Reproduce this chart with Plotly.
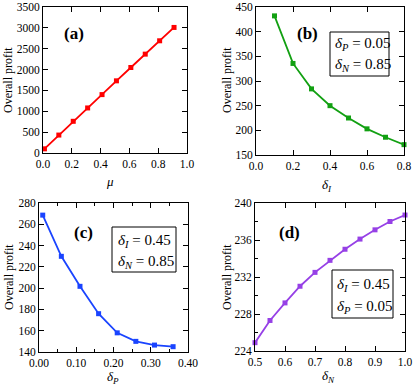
import plotly.graph_objects as go

# data
mu = [0.01, 0.11, 0.21, 0.31, 0.41, 0.51, 0.61, 0.71, 0.81, 0.91]
profit_a = [100, 430, 760, 1080, 1400, 1730, 2050, 2370, 2690, 3010]

delta_i = [0.1, 0.2, 0.3, 0.4, 0.5, 0.6, 0.7, 0.8]
profit_b = [432, 335.6, 284, 250, 225, 203, 186, 171]

delta_p = [0.01, 0.06, 0.11, 0.16, 0.21, 0.26, 0.31, 0.36]
profit_c = [268.6, 229.9, 201.7, 176, 158, 150, 146.5, 145]

delta_n = [0.5, 0.55, 0.6, 0.65, 0.7, 0.75, 0.8, 0.85, 0.9, 0.95, 1.0]
profit_d = [224.9, 227.3, 229.2, 231.0, 232.5, 233.8, 235.0, 236.1, 237.1, 238.0, 238.7]

W, H = 415, 385
FONT = "Liberation Serif, Times New Roman, serif"


def fx(p):
    return p / W


def fy(p):
    return 1 - p / H


fig = go.Figure()

series = [
    (mu, profit_a, "#ff0000", "x", "y"),
    (delta_i, profit_b, "#12a012", "x2", "y2"),
    (delta_p, profit_c, "#1a44ff", "x3", "y3"),
    (delta_n, profit_d, "#9640e6", "x4", "y4"),
]
for xs, ys, col, xa, ya in series:
    fig.add_trace(go.Scatter(x=xs, y=ys, mode="lines+markers", xaxis=xa, yaxis=ya,
                             line=dict(color=col, width=1.8),
                             marker=dict(symbol="square", size=5, color=col),
                             showlegend=False, cliponaxis=False))

ax = dict(showline=True, linecolor="black", linewidth=1, mirror="allticks",
          ticks="inside", ticklen=5, tickwidth=1, tickcolor="black",
          showgrid=False, zeroline=False, automargin=False,
          tickfont=dict(family=FONT, size=11.5, color="black"))

# panel domains (pixels: left, right, top, bottom)
boxes = [(43, 187, 7, 153), (256, 404, 7, 155), (39, 188, 203, 352), (255, 405, 203, 351)]
xset = [
    dict(range=[0, 1], dtick=0.2, tickformat=".1f"),
    dict(range=[0, 0.8], dtick=0.2, tickformat=".1f"),
    dict(range=[0, 0.4], dtick=0.1, tickformat=".2f",
         minor=dict(dtick=0.05, ticks="inside", ticklen=3, tickcolor="black")),
    dict(range=[0.5, 1.0], dtick=0.1, tickformat=".1f"),
]
yset = [
    dict(range=[0, 3500], dtick=500),
    dict(range=[150, 450], dtick=50),
    dict(range=[140, 280], dtick=20),
    dict(range=[224, 240], dtick=4,
         minor=dict(dtick=2, ticks="inside", ticklen=3, tickcolor="black")),
]
layout = {}
for i, (l, r, t, b) in enumerate(boxes):
    n = "" if i == 0 else str(i + 1)
    layout["xaxis" + n] = dict(ax, domain=[fx(l), fx(r)], anchor="y" + n, **xset[i])
    layout["yaxis" + n] = dict(ax, domain=[fy(b), fy(t)], anchor="x" + n, **yset[i])
fig.update_layout(**layout)

ann = []


def text(x, y, s, size, xanchor="center", yanchor="middle", **kw):
    ann.append(dict(x=fx(x), y=fy(y), xref="paper", yref="paper", text=s, showarrow=False,
                    xanchor=xanchor, yanchor=yanchor,
                    font=dict(family=FONT, size=size, color="black"), **kw))


# panel labels
for lab, x, y in [("(a)", 74, 33), ("(b)", 307, 33), ("(c)", 83, 232), ("(d)", 289, 232)]:
    text(x, y, "<b>" + lab + "</b>", 17)

# axis titles
for x, y in [(8, 80), (227, 80), (9, 277), (227, 277)]:
    text(x, y, "Overall profit", 12, textangle=-90)
text(110, 181, "<i>μ</i>", 13)
text(327, 186, "<i>δ</i><sub><i>I</i></sub>", 13)
text(113, 377, "<i>δ</i><sub><i>P</i></sub>", 13)
text(328, 376, "<i>δ</i><sub><i>N</i></sub>", 13)

# parameter boxes
params = [
    ((330, 389, 32, 76), 333, [(44, "P", "0.05"), (65, "N", "0.85")]),
    ((112, 176, 227, 272), 116, [(241, "I", "0.45"), (262, "N", "0.85")]),
    ((332, 393, 270, 318), 335, [(285, "I", "0.45"), (307, "P", "0.05")]),
]
shapes = []
for (l, r, t, b), tx, lines in params:
    shapes.append(dict(type="rect", xref="paper", yref="paper", x0=fx(l), x1=fx(r),
                       y0=fy(b), y1=fy(t), line=dict(color="black", width=1),
                       fillcolor="white", layer="above"))
    for y, sub, val in lines:
        text(tx, y, "<i>δ</i><sub><i>" + sub + "</i></sub> = " + val, 15, xanchor="left")

fig.update_layout(width=W, height=H, margin=dict(l=0, r=0, t=0, b=0),
                  paper_bgcolor="white", plot_bgcolor="white",
                  annotations=ann, shapes=shapes)

# drop the page's default body margin so the figure sits at the window's corner
fig.write_html("out.html", config={"displayModeBar": False},
               post_script="document.body.style.margin='0';")
